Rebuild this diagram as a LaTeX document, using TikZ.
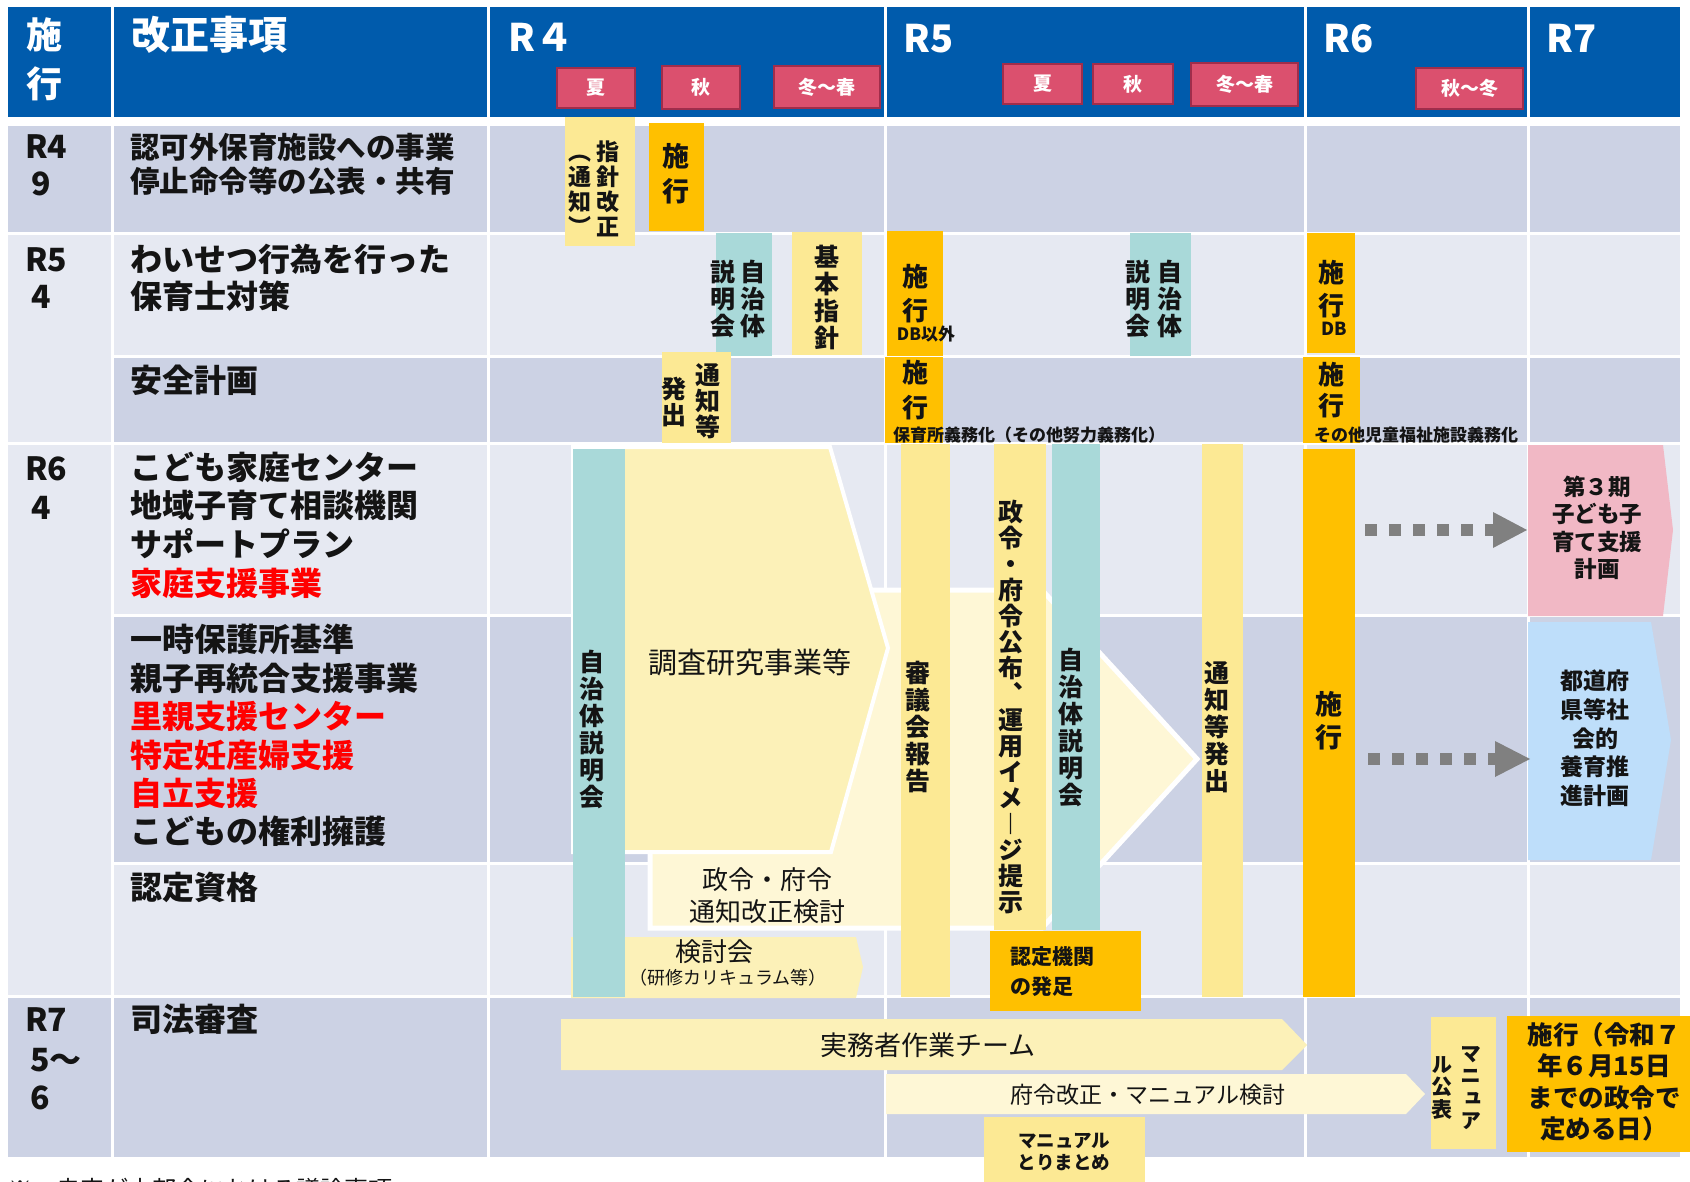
\documentclass[tikz,border=0pt]{standalone}
\usepackage{fontspec}
\setmainfont{Noto Sans CJK JP}
\newfontfamily\jpv[RawFeature=+vert]{Noto Sans CJK JP}
\usetikzlibrary{calc}

\ExplSyntaxOn
\NewDocumentCommand \VS { m m }
  {
    \vbox:n
      {
        \offinterlineskip
        \tl_map_inline:nn {#2}
          {
            \hbox_to_wd:nn {1em}
              { \hss \vrule height \dimexpr 0.38em + #1pt / 2 \relax depth \dimexpr #1pt / 2 - 0.38em \relax width 0pt \relax ##1 \hss }
          }
      }
  }
\ExplSyntaxOff

\definecolor{hdr}{RGB}{0,91,172}
\definecolor{rowD}{RGB}{204,210,228}
\definecolor{rowL}{RGB}{230,233,242}
\definecolor{ylw}{RGB}{252,233,148}
\definecolor{org}{RGB}{255,192,0}
\definecolor{tealc}{RGB}{169,217,217}
\definecolor{arrY}{RGB}{252,241,184}
\definecolor{arrL}{RGB}{254,247,214}
\definecolor{pinkc}{RGB}{241,184,197}
\definecolor{bluec}{RGB}{190,222,250}
\definecolor{seasF}{RGB}{219,80,110}
\definecolor{seasB}{RGB}{160,45,75}
\definecolor{txt}{RGB}{20,20,20}
\definecolor{redt}{RGB}{255,0,0}
\definecolor{grayA}{RGB}{128,128,128}

\tikzset{
  jt/.style={inner sep=0pt, text=txt, execute at begin node={\vrule height .88em depth .12em width 0pt\relax}},
  bt/.style={jt, font=\bfseries\fontsize{#1}{#1}\selectfont}, bt/.default=32,
  rt/.style={jt, font=\fontsize{#1}{#1}\selectfont}, rt/.default=26,
  vt/.style={inner sep=0pt, text=txt, font=\jpv\bfseries\fontsize{#1}{#1}\selectfont}, vt/.default=25,
  season/.style={fill=seasF, draw=seasB, line width=2.5pt, text=white, inner sep=0pt,
    font=\bfseries\fontsize{19}{19}\selectfont},
  dotarrow/.style={grayA, line width=12pt, dash pattern=on 12pt off 12pt},
}

\begin{document}
\begin{tikzpicture}[x=1pt,y=-1pt]
\useasboundingbox (0,0) rectangle (1690,1182);
\fill[white] (0,0) rectangle (1690,1182);

% ---------- header ----------
\foreach \a/\b in {8/111,114/487,490/884,887/1304,1307/1527,1530/1680}
  \fill[hdr] (\a,7) rectangle (\b,117);

% ---------- body cells ----------
\foreach \a/\b in {114/487,490/884,887/1304,1307/1527,1530/1680} {
  \fill[rowD] (\a,126) rectangle (\b,232);
  \fill[rowL] (\a,235) rectangle (\b,355);
  \fill[rowD] (\a,358) rectangle (\b,442);
  \fill[rowL] (\a,445) rectangle (\b,614);
  \fill[rowD] (\a,617) rectangle (\b,862);
  \fill[rowL] (\a,865) rectangle (\b,995);
  \fill[rowD] (\a,998) rectangle (\b,1157);
}
\fill[rowD] (8,126) rectangle (111,232);
\fill[rowL] (8,235) rectangle (111,442);
\fill[rowL] (8,445) rectangle (111,995);
\fill[rowD] (8,998) rectangle (111,1157);

% ---------- header texts ----------
\node[vt=36, text=white] (hShiko) at (44,59) {\VS{49}{施行}};
\node[bt=39, text=white, anchor=west] (hKaisei) at (131,35) {改正事項};
\node[bt=38, text=white, anchor=base west] (hR4) at (508,52) {R４};
\node[bt=38, text=white, anchor=base west] (hR5) at (903,53) {R5};
\node[bt=38, text=white, anchor=base west] (hR6) at (1323,53) {R6};
\node[bt=38, text=white, anchor=base west] (hR7) at (1546,53) {R7};

\node[season, minimum width=78, minimum height=40] (s1) at (596,88) {夏};
\node[season, minimum width=78, minimum height=43] (s2) at (701,87.5) {秋};
\node[season, minimum width=106, minimum height=42] (s3) at (827,87) {冬〜春};
\node[season, minimum width=79, minimum height=40] (s4) at (1042.5,84) {夏};
\node[season, minimum width=80, minimum height=40] (s5) at (1133,84) {秋};
\node[season, minimum width=107, minimum height=43] (s6) at (1244.5,84.5) {冬〜春};
\node[season, minimum width=107, minimum height=41] (s7) at (1469.5,88.5) {秋〜冬};

% ---------- row labels ----------
\node[bt=32, anchor=west] (r1a) at (25,146) {R4};
\node[bt=32, anchor=west] (r1b) at (31,183) {9};
\node[bt=32, anchor=west] (r2a) at (25,259) {R5};
\node[bt=32, anchor=west] (r2b) at (31,296) {4};
\node[bt=32, anchor=west] (r3a) at (25,468) {R6};
\node[bt=32, anchor=west] (r3b) at (31,507) {4};
\node[bt=32, anchor=west] (r4a) at (25,1019) {R7};
\node[bt=32, anchor=west] (r4b) at (30,1059) {5〜};
\node[bt=32, anchor=west] (r4c) at (30,1097) {6};

% ---------- items ----------
\node[bt=29.5, anchor=west] (k1a) at (130,147) {認可外保育施設への事業};
\node[bt=29.5, anchor=west] (k1b) at (130,181) {停止命令等の公表・共有};
\node[bt=32, anchor=west] (k2a) at (130,259) {わいせつ行為を行った};
\node[bt=32, anchor=west] (k2b) at (130,296) {保育士対策};
\node[bt=32, anchor=west] (k2c) at (130,380) {安全計画};
\foreach \t [count=\i from 0] in {こども家庭センター,地域子育て相談機関,サポートプラン}
  \node[bt=32, anchor=west] (k3a\i) at (130,{467+38.5*\i}) {\t};
\node[bt=32, anchor=west, text=redt] (k3a3) at (130,583) {家庭支援事業};
\node[bt=32, anchor=west] (k3b0) at (130,639) {一時保護所基準};
\node[bt=32, anchor=west] (k3b1) at (130,678) {親子再統合支援事業};
\node[bt=32, anchor=west, text=redt] (k3b2) at (130,716) {里親支援センター};
\node[bt=32, anchor=west, text=redt] (k3b3) at (130,755) {特定妊産婦支援};
\node[bt=32, anchor=west, text=redt] (k3b4) at (130,793) {自立支援};
\node[bt=32, anchor=west] (k3b5) at (130,831) {こどもの権利擁護};
\node[bt=32, anchor=west] (k3c) at (130,887) {認定資格};
\node[bt=32, anchor=west] (k4) at (130,1019) {司法審査};

% ---------- big arrows ----------
\filldraw[fill=arrL, draw=white, line width=5pt] (650,590) -- (1042,590) -- (1197,759) -- (1042,928) -- (650,928) -- cycle;
\filldraw[fill=arrY, draw=white, line width=4pt] (573,447) -- (830,447) -- (888,648) -- (831,852) -- (573,852) -- cycle;
\fill[arrY] (571,937) -- (856,937) -- (863,967) -- (856,998) -- (571,998) -- cycle;
\fill[arrY] (561,1019) -- (1282,1019) -- (1307,1045) -- (1282,1070) -- (561,1070) -- cycle;
\fill[arrL] (886,1074) -- (1406,1074) -- (1425,1094) -- (1406,1114) -- (886,1114) -- cycle;
\fill[pinkc] (1528,445) -- (1663,445) -- (1673,530) -- (1663,616) -- (1528,616) -- cycle;
\fill[bluec] (1528,622) -- (1651,622) -- (1671,740) -- (1651,860) -- (1528,860) -- cycle;

% ---------- bars ----------
\fill[ylw] (565,117) rectangle (635,246);
\fill[org] (649,123) rectangle (704,231);
\fill[tealc] (716,233) rectangle (772,356);
\fill[ylw] (792,232) rectangle (862,355);
\fill[org] (887,231) rectangle (943,356);
\fill[tealc] (1130,233) rectangle (1191,356);
\fill[org] (1307,233) rectangle (1355,353);
\fill[ylw] (662,352) rectangle (731,443);
\fill[org] (885,357) rectangle (943,443);
\fill[org] (1303,357) rectangle (1360,443);
\fill[tealc] (573,449) rectangle (625,997);
\fill[ylw] (901,444) rectangle (950,997);
\fill[ylw] (994,444) rectangle (1046,930);
\fill[tealc] (1052,444) rectangle (1100,930);
\fill[ylw] (1202,444) rectangle (1243,997);
\fill[org] (1303,449) rectangle (1355,997);
\fill[org] (990,931) rectangle (1141,1011);
\fill[ylw] (984,1117) rectangle (1145,1195);
\fill[ylw] (1431,1017) rectangle (1496,1149);
\fill[org] (1507,1016) rectangle (1690,1152);

% ---------- dotted arrows ----------
\coordinate (a1s) at (1365,530); \coordinate (a1e) at (1497,530);
\draw[dotarrow] (a1s) -- (a1e);
\fill[grayA] (1493,512) -- (1527,530) -- (1493,548) -- cycle;
\coordinate (a2s) at (1368,759); \coordinate (a2e) at (1500,759);
\draw[dotarrow] (a2s) -- (a2e);
\fill[grayA] (1495,741) -- (1530,759) -- (1495,777) -- cycle;

% ---------- vertical texts ----------
\node[vt=23] (v1a) at (608,189) {\VS{25}{指針改正}};
\node[vt=23] (v1b) at (580,189) {\VS{25}{︵通知︶}};
\node[vt=27] (v2) at (676,174) {\VS{35}{施行}};
\node[vt=25] (v3a) at (753,299) {\VS{27}{自治体}};
\node[vt=25] (v3b) at (723,299) {\VS{27}{説明会}};
\node[vt=25] (v4) at (827,298) {\VS{27}{基本指針}};
\node[vt=26] (v5) at (915,294) {\VS{34}{施行}};
\node[bt=17] (v5l) at (926,334) {DB以外};
\node[vt=25] (v6a) at (1170,299) {\VS{27}{自治体}};
\node[vt=25] (v6b) at (1138,299) {\VS{27}{説明会}};
\node[vt=26] (v7) at (1331,289) {\VS{33}{施行}};
\node[bt=18] (v7l) at (1334,329) {DB};
\node[vt=25] (v8a) at (708,401) {\VS{26}{通知等}};
\node[vt=25] (v8b) at (674,402) {\VS{26}{発出}};
\node[vt=26] (v9) at (915,390) {\VS{35}{施行}};
\node[bt=17] (v9l) at (1029,435) {保育所義務化（その他努力義務化）};
\node[vt=26] (v10) at (1331,390) {\VS{31}{施行}};
\node[bt=17] (v10l) at (1416,435) {その他児童福祉施設義務化};
\node[vt=25] (v11) at (592,729) {\VS{27}{自治体説明会}};
\node[vt=25] (v12) at (918,727) {\VS{27}{審議会報告}};
\node[vt=25] (v13) at (1011,707) {\VS{26}{政令・府令公布︑運用イメ︱ジ提示}};
\node[vt=25] (v14) at (1071,727) {\VS{27}{自治体説明会}};
\node[vt=25] (v15) at (1217,727) {\VS{27}{通知等発出}};
\node[vt=27] (v16) at (1329,721) {\VS{33}{施行}};
\node[vt=21] (v17a) at (1471,1087) {\VS{22.5}{マニュア}};
\node[vt=21] (v17b) at (1442,1087) {\VS{22.5}{ル公表}};

% ---------- horizontal timeline texts ----------
\node[rt=29] (t1) at (750,662) {調査研究事業等};
\node[rt=26] (t2a) at (767,880) {政令・府令};
\node[rt=26] (t2b) at (767,912) {通知改正検討};
\node[rt=26] (t3a) at (714,952) {検討会};
\node[rt=18] (t3b) at (728,978) {（研修カリキュラム等）};
\node[rt=27] (t4) at (928,1045) {実務者作業チーム};
\node[rt=23] (t5) at (1148,1095) {府令改正・マニュアル検討};
\node[bt=18.5] (t6a) at (1064,1140) {マニュアル};
\node[bt=18.5] (t6b) at (1064,1162) {とりまとめ};
\node[bt=21, anchor=west] (t7a) at (1010,957) {認定機関};
\node[bt=21, anchor=west] (t7b) at (1010,987) {の発足};
\foreach \t [count=\i from 0] in {第３期,子ども子,育て支援,計画}
  \node[bt=22.5] (pk\i) at (1597,{487+27.3*\i}) {\t};
\foreach \t [count=\i from 0] in {都道府,県等社,会的,養育推,進計画}
  \node[bt=23] (bl\i) at (1595,{681+28.7*\i}) {\t};
\foreach \t [count=\i from 0] in {施行（令和７,年６月15日,までの政令で,定める日）}
  \node[bt=25.5] (sk\i) at (1604,{1035+31.3*\i}) {\t};

% ---------- footnote (cut at page edge) ----------
\node[rt=24, anchor=north west] (fn) at (8,1177) {※　赤字が本部会における議論事項};
\end{tikzpicture}
\end{document}
